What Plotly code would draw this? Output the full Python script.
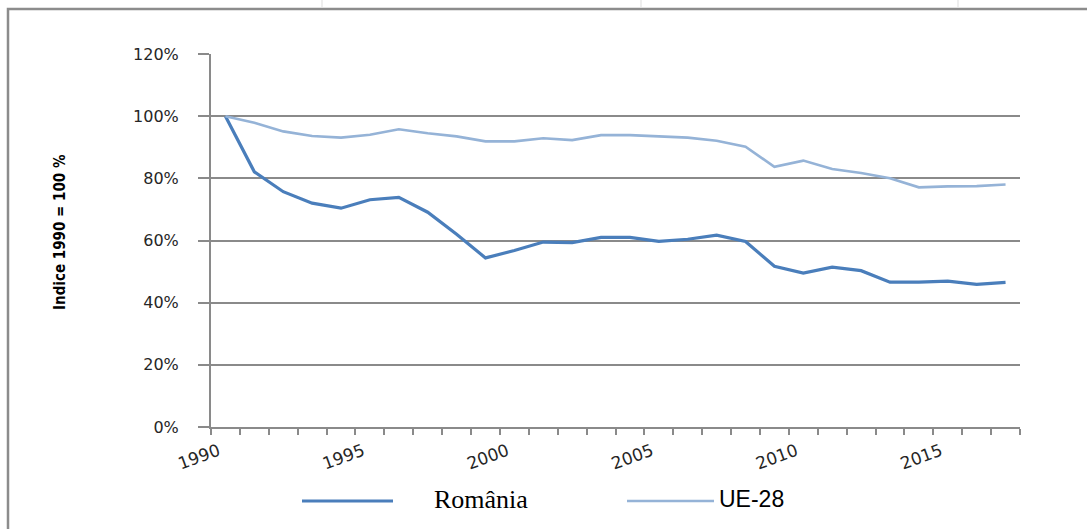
import plotly.graph_objects as go

# ---- data (index 1990 = 100 %) ----
years = list(range(1990, 2018))
romania = [100, 82.1, 75.7, 72.0, 70.4, 73.1, 73.9, 69.1, 62.0, 54.4,
           56.8, 59.5, 59.3, 61.0, 61.0, 59.7, 60.4, 61.7, 59.7, 51.7,
           49.5, 51.4, 50.3, 46.6, 46.6, 46.9, 45.9, 46.5]
ue28 = [100, 97.9, 95.1, 93.6, 93.1, 94.0, 95.8, 94.5, 93.5, 91.9,
        91.9, 92.9, 92.3, 93.9, 93.9, 93.5, 93.1, 92.1, 90.2, 83.7,
        85.7, 83.0, 81.7, 80.0, 77.1, 77.4, 77.5, 78.0]
x_tick_years = [1990, 1995, 2000, 2005, 2010, 2015]
y_ticks = [0, 20, 40, 60, 80, 100, 120]
series_names = ["România", "UE-28"]

# ---- layout geometry (pixels) ----
W, H = 1087, 529
L, R, T, B = 211, 1020, 54, 427
GRAY = "#8a8a8a"
C_RO = "#4a7ebb"
C_UE = "#95b3d7"


def px(x):
    return (x - L) / (R - L)


def py(y):
    return (B - y) / (B - T)


fig = go.Figure()
fig.add_trace(go.Scatter(x=years, y=romania, mode="lines", name=series_names[0],
                         line=dict(color=C_RO, width=3.2), showlegend=False))
fig.add_trace(go.Scatter(x=years, y=ue28, mode="lines", name=series_names[1],
                         line=dict(color=C_UE, width=2.6), showlegend=False))

fig.update_layout(
    width=W, height=H,
    margin=dict(l=L, r=W - R, t=T, b=H - B, pad=0),
    paper_bgcolor="white", plot_bgcolor="white",
    font=dict(family="DejaVu Sans", size=15, color="#262626"),
    showlegend=False,
)

fig.update_xaxes(
    range=[1989.5, 2017.5],
    tickmode="array", tickvals=x_tick_years, ticktext=[str(v) for v in x_tick_years],
    tickangle=-20, ticks="", showgrid=False, zeroline=False,
    ticklabelshift=-7, ticklabelstandoff=6,
    showline=True, linecolor=GRAY, linewidth=2,
    tickfont=dict(family="DejaVu Sans", size=17, color="#262626"),
    minor=dict(tickmode="linear", tick0=1989.5, dtick=1, ticks="outside",
               ticklen=6, tickcolor=GRAY, tickwidth=1.5, showgrid=False),
)
fig.update_yaxes(
    range=[0, 120], tickmode="array", tickvals=y_ticks,
    ticktext=[f"{v}%" for v in y_ticks],
    ticks="outside", ticklen=11, tickcolor=GRAY, tickwidth=1.5,
    ticklabelstandoff=16,
    showgrid=True, gridcolor=GRAY, gridwidth=1.6, zeroline=False,
    showline=True, linecolor=GRAY, linewidth=2,
    tickfont=dict(family="DejaVu Sans", size=16, color="#262626"),
)

# y-axis title
fig.add_annotation(
    text="<b>Indice 1990 = 100 %</b>", textangle=-90,
    xref="paper", yref="paper", x=px(60), y=py(232),
    showarrow=False, xanchor="center", yanchor="middle",
    font=dict(family="DejaVu Sans Condensed, Liberation Sans Narrow, Arial Narrow", size=15, color="black"),
)

# chart-area border (left & top visible)
fig.add_shape(type="rect", xref="paper", yref="paper",
              x0=px(8), x1=px(1200), y0=py(700), y1=py(9),
              line=dict(color="#8c8c8c", width=2.5), fillcolor="rgba(0,0,0,0)", layer="below")

# faint marks at the top edge
for xm in [322, 641, 958]:
    fig.add_shape(type="line", xref="paper", yref="paper",
                  x0=px(xm), x1=px(xm), y0=py(0), y1=py(7),
                  line=dict(color="#dddddd", width=1))

# legend (drawn manually)
ly = py(501)
fig.add_shape(type="line", xref="paper", yref="paper",
              x0=px(302), x1=px(393), y0=ly, y1=ly,
              line=dict(color=C_RO, width=3.2))
fig.add_annotation(text=series_names[0], xref="paper", yref="paper",
                   x=px(432), y=py(500), xanchor="left", yanchor="middle", showarrow=False,
                   font=dict(family="Liberation Serif, Times New Roman", size=26, color="black"))
fig.add_shape(type="line", xref="paper", yref="paper",
              x0=px(627), x1=px(714), y0=ly, y1=ly,
              line=dict(color=C_UE, width=2.6))
fig.add_annotation(text=series_names[1], xref="paper", yref="paper",
                   x=px(717), y=py(499), xanchor="left", yanchor="middle", showarrow=False,
                   font=dict(family="Liberation Sans, Arial", size=23, color="black"))

fig.write_html("out.html", config={"displayModeBar": False},
               post_script="document.body.style.margin='0px';")
